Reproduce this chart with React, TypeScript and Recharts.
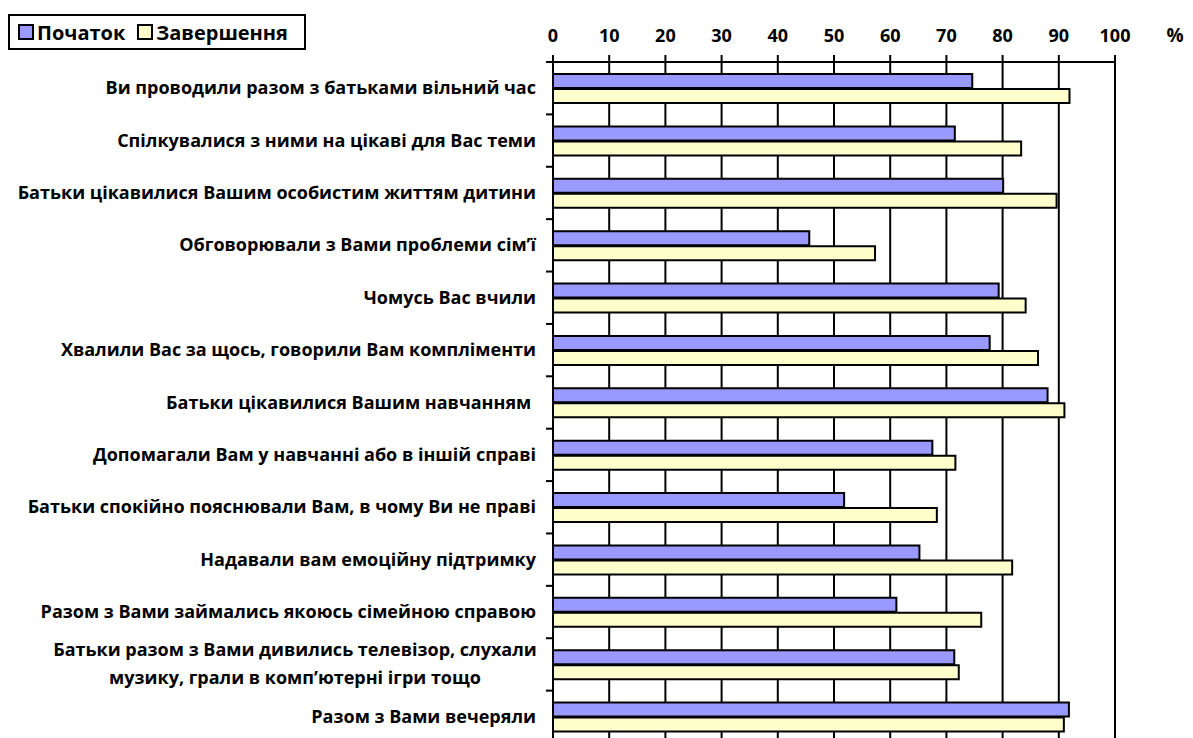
import React from 'react';
import {
  BarChart,
  Bar,
  XAxis,
  YAxis,
  CartesianGrid,
  Legend,
  Label,
} from 'recharts';

// Survey questions (category axis), top to bottom
const questions: string[] = [
  'Ви проводили разом з батьками вільний час',
  'Спілкувалися з ними на цікаві для Вас теми',
  'Батьки цікавилися Вашим особистим життям дитини',
  'Обговорювали з Вами проблеми сім’ї',
  'Чомусь Вас вчили',
  'Хвалили Вас за щось, говорили Вам компліменти',
  'Батьки цікавилися Вашим навчанням ',
  'Допомагали Вам у навчанні або в іншій справі',
  'Батьки спокійно пояснювали Вам, в чому Ви не праві',
  'Надавали вам емоційну підтримку',
  'Разом з Вами займались якоюсь сімейною справою',
  'Батьки разом з Вами дивились телевізор, слухали\nмузику, грали в комп’ютерні ігри тощо',
  'Разом з Вами вечеряли',
];

// Share of answers, %
const startValues: number[] = [74.6, 71.5, 80.1, 45.6, 79.3, 77.7, 88.0, 67.5, 51.8, 65.2, 61.1, 71.4, 91.8];
const endValues: number[] = [91.9, 83.3, 89.6, 57.3, 84.1, 86.3, 91.0, 71.6, 68.3, 81.7, 76.2, 72.2, 90.9];

const seriesNames: string[] = ['Початок', 'Завершення'];
const seriesColors: string[] = ['#9999FF', '#FFFFCC'];
const percentTicks: number[] = [0, 10, 20, 30, 40, 50, 60, 70, 80, 90, 100];

const rows = questions.map((q, i) => ({
  question: q,
  start: startValues[i],
  end: endValues[i],
}));

const FONT = '"Open Sans", "Noto Sans", sans-serif';

const PercentTick = (props: any) => {
  const { x, payload } = props;
  return (
    <text
      x={x}
      y={34}
      textAnchor="middle"
      fontFamily={FONT}
      fontWeight={700}
      fontSize={18}
      fill="#000"
    >
      {payload.value}
    </text>
  );
};

const QuestionTick = (props: any) => {
  const { x, y, payload, index, visibleTicksCount } = props;
  const half = payload.offset ?? 26;
  const axisX = x + 8;
  const lines: string[] = String(payload.value).split('\n');
  const last = index === (visibleTicksCount ?? questions.length) - 1;
  return (
    <g>
      <line x1={axisX - 7} x2={axisX} y1={y - half} y2={y - half} stroke="#000" strokeWidth={2} />
      {last && (
        <line x1={axisX - 7} x2={axisX} y1={y + half} y2={y + half} stroke="#000" strokeWidth={2} />
      )}
      {lines.length === 1 ? (
        <text
          x={axisX - 17}
          y={y + 6}
          textAnchor="end"
          xmlSpace="preserve"
          fontFamily={FONT}
          fontWeight={700}
          fontSize={18}
          fill="#000"
        >
          {lines[0]}
        </text>
      ) : (
        lines.map((ln, k) => (
          <text
            key={k}
            x={axisX - 258}
            y={y + 6 + (k - (lines.length - 1) / 2) * 28}
            textAnchor="middle"
            fontFamily={FONT}
            fontWeight={700}
            fontSize={18}
            fill="#000"
          >
            {ln}
          </text>
        ))
      )}
    </g>
  );
};

const LegendBox = () => (
  <div
    style={{
      border: '2px solid #000',
      background: '#fff',
      width: 298,
      height: 36,
      boxSizing: 'border-box',
      display: 'flex',
      alignItems: 'center',
      paddingLeft: 8,
      fontFamily: FONT,
      fontWeight: 700,
      fontSize: 20,
      color: '#000',
    }}
  >
    {seriesNames.map((name, i) => (
      <span key={name} style={{ display: 'flex', alignItems: 'center', marginRight: 12 }}>
        <span
          style={{
            display: 'inline-block',
            width: 12,
            height: 12,
            border: '2px solid #000',
            background: seriesColors[i],
            marginRight: 3,
          }}
        />
        {name}
      </span>
    ))}
  </div>
);

const PercentSign = (props: any) => {
  const { viewBox } = props;
  return (
    <text
      x={viewBox.x + viewBox.width + 60}
      y={34}
      textAnchor="middle"
      fontFamily={FONT}
      fontWeight={700}
      fontSize={19}
      fill="#000"
    >
      %
    </text>
  );
};

export default function App() {
  return (
    <div style={{ height: 730, overflow: 'hidden', position: 'relative' }}>
      <BarChart
        width={1185}
        height={776}
        data={rows}
        layout="vertical"
        margin={{ top: 0, right: 78, bottom: 5, left: 0 }}
        barSize={14}
        barGap={1}
      >
        <CartesianGrid horizontal={false} stroke="#000" strokeWidth={2} />
        <XAxis
          type="number"
          orientation="top"
          domain={[0, 100]}
          ticks={percentTicks}
          interval={0}
          height={54}
          axisLine={{ stroke: '#000', strokeWidth: 2 }}
          tickLine={{ stroke: '#000', strokeWidth: 2 }}
          tickSize={7}
          tick={<PercentTick />}
        >
          <Label content={<PercentSign />} />
        </XAxis>
        <YAxis
          type="category"
          dataKey="question"
          width={545}
          interval={0}
          axisLine={{ stroke: '#000', strokeWidth: 2 }}
          tickLine={false}
          tick={<QuestionTick />}
        />
        <Legend
          content={<LegendBox />}
          wrapperStyle={{ position: 'absolute', top: 6, left: 0, width: 298 }}
        />
        <Bar
          dataKey="start"
          name={seriesNames[0]}
          fill={seriesColors[0]}
          stroke="#000"
          strokeWidth={2}
          isAnimationActive={false}
        />
        <Bar
          dataKey="end"
          name={seriesNames[1]}
          fill={seriesColors[1]}
          stroke="#000"
          strokeWidth={2}
          isAnimationActive={false}
        />
      </BarChart>
    </div>
  );
}
